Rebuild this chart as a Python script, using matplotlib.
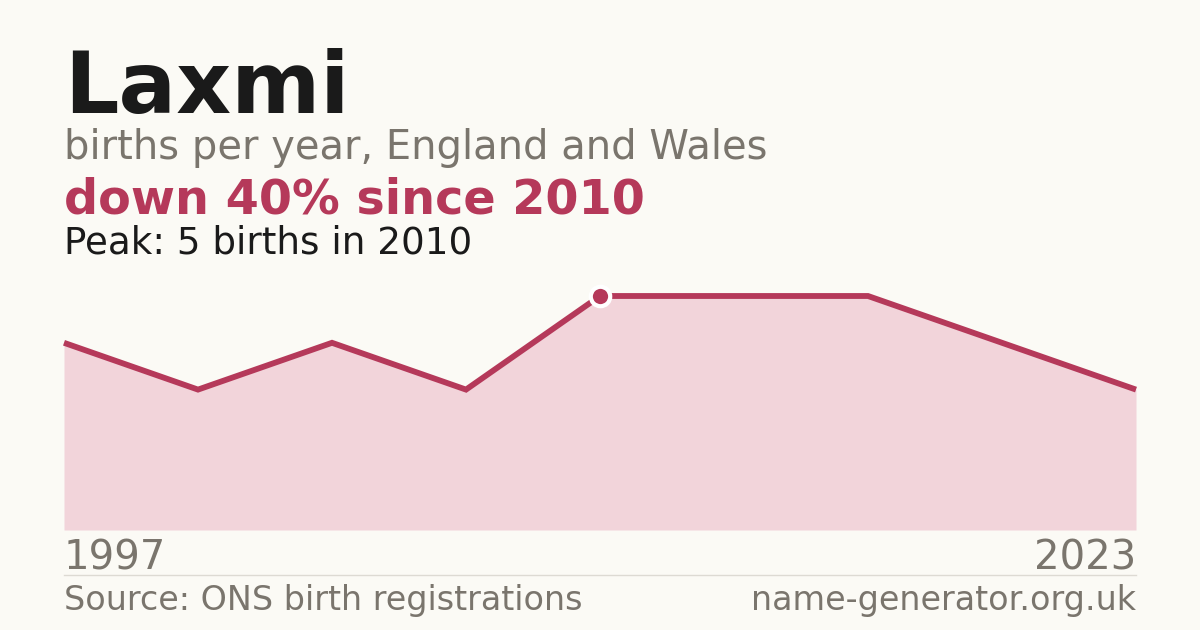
import matplotlib
matplotlib.use("Agg")
import matplotlib.pyplot as plt

name = "Laxmi"
subtitle = "births per year, England and Wales"
headline = "down 40% since 2010"
peak_text = "Peak: 5 births in 2010"
start_year = "1997"
end_year = "2023"
source = "Source: ONS birth registrations"
site = "name-generator.org.uk"
counts = [4, 3, 4, 3, 5, 5, 5, 4, 3]
peak_index = 4

BG = "#fbfaf5"
RED = "#b5395a"
FILL = "#f2d4da"
GRAY = "#7a756d"
DARK = "#1a1a1a"

W, H = 1200, 630
fig = plt.figure(figsize=(W / 100, H / 100), dpi=100, facecolor=BG)

def fx(x):
    return x / W

def fy(y):
    return 1 - y / H

ax = fig.add_axes([fx(64), fy(530), fx(1136) - fx(64), fy(296) - fy(530)])
ax.set_facecolor(BG)
xs = list(range(len(counts)))
ax.fill_between(xs, counts, 0, color=FILL, lw=0)
ax.plot(xs, counts, color=RED, lw=4.2, solid_joinstyle="miter", solid_capstyle="butt", clip_on=False)
ax.plot([xs[peak_index]], [counts[peak_index]], "o", ms=14, mfc=RED, mec="white", mew=3, clip_on=False, zorder=5)
ax.set_xlim(0, len(counts) - 1)
ax.set_ylim(0, max(counts))
ax.axis("off")

fig.text(fx(64), fy(113), name, fontsize=61.5, fontweight="bold", color=DARK, va="baseline", ha="left")
fig.text(fx(64), fy(159), subtitle, fontsize=28.8, color=GRAY, va="baseline", ha="left")
fig.text(fx(64), fy(213), headline, fontsize=34.4, fontweight="bold", color=RED, va="baseline", ha="left")
fig.text(fx(64), fy(253), peak_text, fontsize=26.8, color=DARK, va="baseline", ha="left")
fig.text(fx(64), fy(570), start_year, fontsize=28.9, color=GRAY, va="baseline", ha="left")
fig.text(fx(1136), fy(570), end_year, fontsize=28.9, color=GRAY, va="baseline", ha="right")
fig.add_artist(plt.Line2D([fx(64), fx(1136)], [fy(574.5), fy(574.5)], color="#dddad3", lw=1))
fig.text(fx(64), fy(610), source, fontsize=24, color=GRAY, va="baseline", ha="left")
fig.text(fx(1136), fy(610), site, fontsize=24, color=GRAY, va="baseline", ha="right")

fig.savefig("out.png", dpi=100, facecolor=BG)
